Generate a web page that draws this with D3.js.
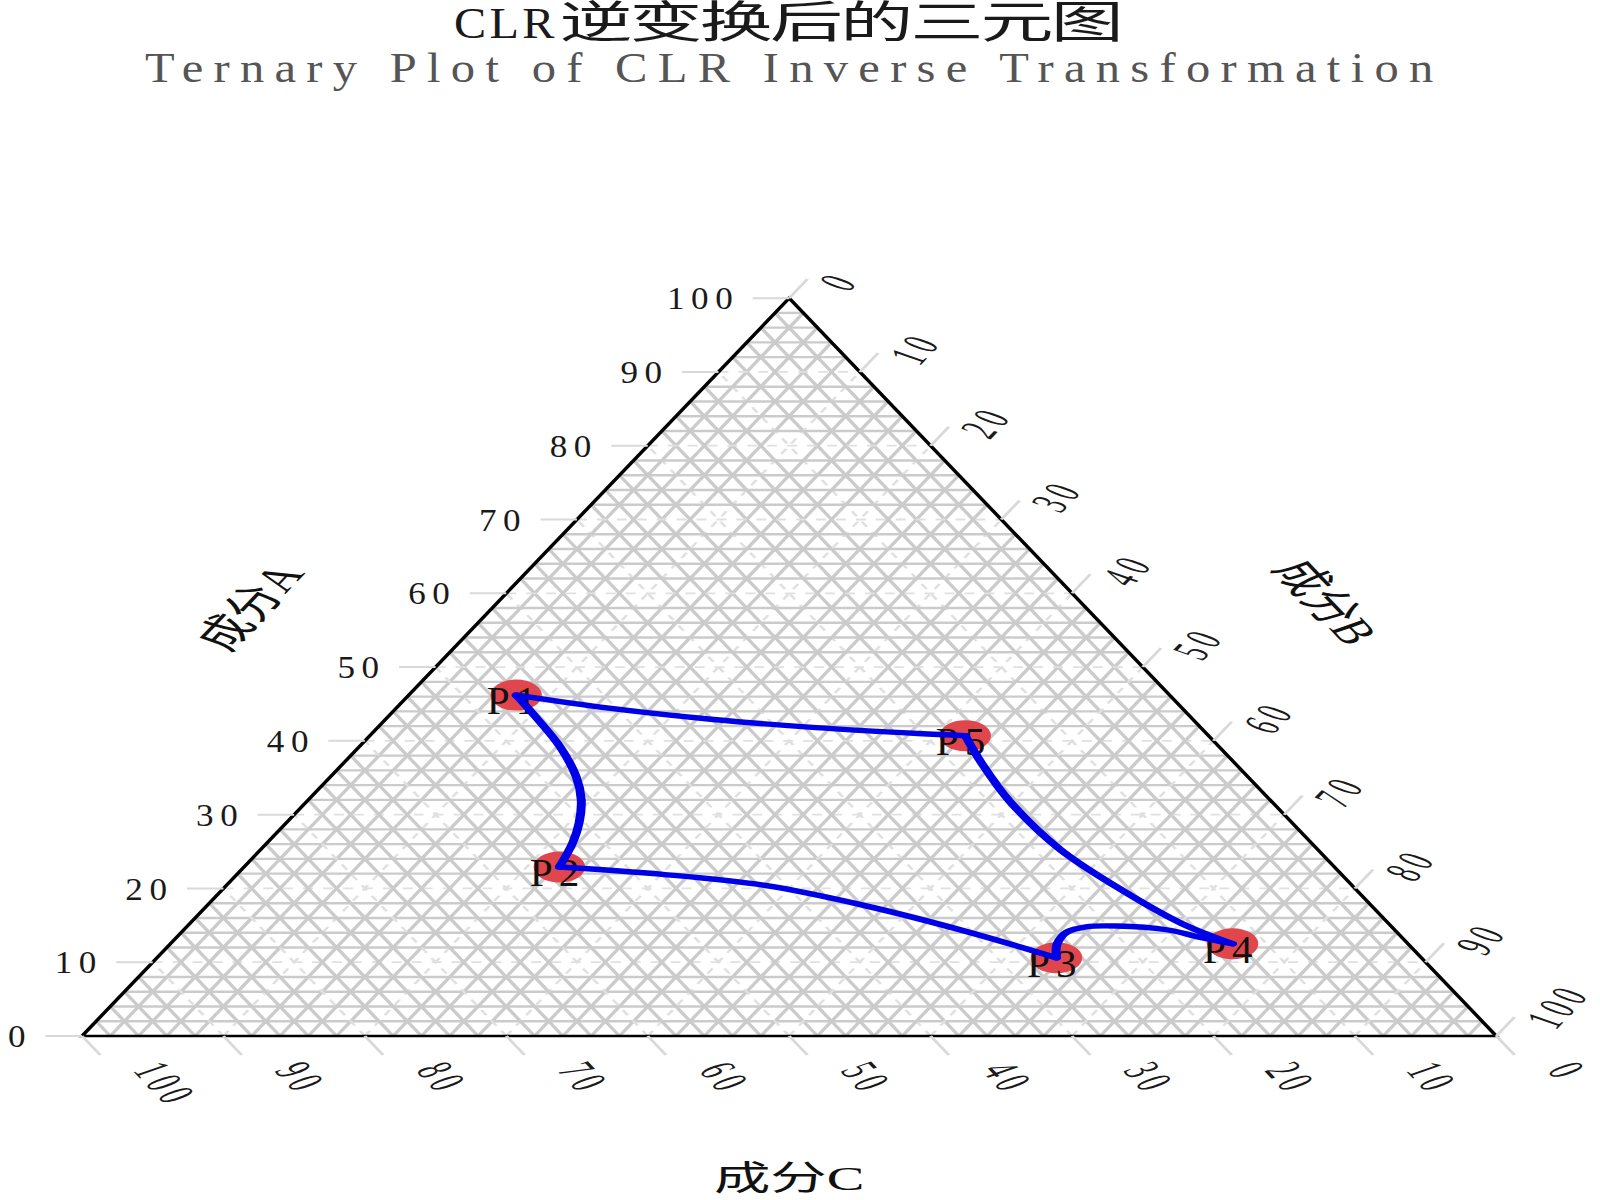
<!DOCTYPE html>
<html>
<head>
<meta charset="utf-8">
<script src="https://cdn.jsdelivr.net/npm/d3@7"></script>
<style>
	body { margin: 0; background: #fff; }
	svg { display: block; }
</style>
</head>
<body>
<script>
// points (percent of A, B, C)
const pointNames = ["P1", "P2", "P3", "P4", "P5"];
const pointA = [46.2, 22.9, 10.6, 12.5, 40.7];
const pointB = [7.6, 22.3, 63.6, 75.1, 42.1];
const pointC = [46.2, 54.8, 25.8, 12.4, 17.2];

// blue trace, P1 -> P2 -> P3 -> P4 -> P5 -> P1
const traceKnot = ["P1", "", "", "", "", "", "", "P2", "", "", "", "", "P3", "", "", "", "", "", "", "P4",
	"", "", "", "", "", "P5", "", "", "", "", "P1"];
const traceA = [46.2, 43.2, 39.2, 35.1, 32.0, 28.9, 26.2, 22.9, 21.9, 20.4, 17.6, 14.1, 10.6,
	12.5, 14.1, 14.8, 14.9, 14.4, 13.4, 12.5, 15.2, 19.8, 25.3, 31.8, 37.0, 40.7,
	41.0, 41.8, 42.9, 44.4, 46.2];
const traceB = [7.6, 10.5, 14.2, 17.4, 19.3, 20.7, 21.6, 22.3, 30.1, 38.1, 46.7, 55.6, 63.6,
	62.7, 62.6, 63.6, 65.7, 69.5, 72.3, 75.1, 70.2, 63.6, 56.5, 49.7, 45.1, 42.1,
	38.6, 31.0, 23.2, 15.2, 7.6];
const traceC = [46.2, 46.3, 46.6, 47.5, 48.7, 50.4, 52.2, 54.8, 48.0, 41.5, 35.7, 30.3, 25.8,
	24.8, 23.3, 21.6, 19.4, 16.1, 14.3, 12.4, 14.6, 16.6, 18.2, 18.5, 17.9, 17.2,
	20.4, 27.2, 33.9, 40.4, 46.2];

const tickVals = [0, 10, 20, 30, 40, 50, 60, 70, 80, 90, 100];
const gridVals = d3.range(2, 100, 2);

const axisTitles = ["成分A", "成分B", "成分C"];
const titleLatin = "CLR";
const titleCjk = "逆变换后的三元图";
const subtitle = "Ternary Plot of CLR Inverse Transformation";

// =========================================================================

// the picture is stretched sideways, so draw in a narrower frame and scale it
const sx = 1.66;
const side = 852, h = side * Math.sqrt(3) / 2, x0 = 49.4, y0 = 1036;
const serif = "'Liberation Serif', 'Noto Sans CJK SC', serif";
const narrow = 0.66; // latin glyphs are thin half-width ones in the original

const yA = d3.scaleLinear().domain([0, 100]).range([y0, y0 - h]);
const xS = d3.scaleLinear().domain([0, 100]).range([0, side]);

function proj(a, b, c) {
	const t = (a + b + c) / 100;
	a = a / t; b = b / t;
	return [x0 + xS(b) + xS(a) / 2, yA(a)];
}

// thin text with wide letter pitch
function ntext(parent, x, y, rot, str, anchor, size, spacing) {
	return parent.append("text")
		.attr("transform", `translate(${x},${y}) rotate(${rot}) scale(${narrow},1)`)
		.attr("text-anchor", anchor)
		.attr("dy", "0.35em")
		.attr("font-size", size)
		.attr("letter-spacing", spacing)
		.text(str);
}

const svg = d3.select("body").append("svg")
	.attr("width", 1600)
	.attr("height", 1200);
svg.append("rect").attr("width", 1600).attr("height", 1200).attr("fill", "#fff");

const g = svg.append("g").attr("transform", `scale(${sx},1)`);

// triangle background
const corners = [proj(100, 0, 0), proj(0, 100, 0), proj(0, 0, 100)];
g.append("polygon")
	.attr("points", corners.map(p => p.join(",")).join(" "))
	.attr("fill", "#fff");

// grid: every 2 solid, every 10 dashed and lighter
function gridLines(v) {
	return [
		[proj(v, 0, 100 - v), proj(v, 100 - v, 0)],
		[proj(0, v, 100 - v), proj(100 - v, v, 0)],
		[proj(0, 100 - v, v), proj(100 - v, 0, v)]
	];
}
const grid = g.append("g");
gridVals.forEach(v => {
	const major = v % 10 == 0;
	gridLines(v).forEach(l => {
		grid.append("line")
			.attr("x1", l[0][0]).attr("y1", l[0][1])
			.attr("x2", l[1][0]).attr("y2", l[1][1])
			.attr("stroke", major ? "#e0e0e0" : "#cbcbcb")
			.attr("stroke-width", major ? 1.8 : 2.4)
			.attr("stroke-dasharray", major ? "6,6" : null);
	});
});

g.append("polygon")
	.attr("points", corners.map(p => p.join(",")).join(" "))
	.attr("fill", "none")
	.attr("stroke", "#000")
	.attr("stroke-width", 2.5);

// ticks and tick labels
const tl = 22;
const ticks = g.append("g").attr("stroke", "#d9d9d9").attr("stroke-width", 2);
const labels = g.append("g")
	.attr("font-family", serif)
	.attr("fill", "#1a1a1a");

tickVals.forEach(v => {
	// A, left side
	let p = proj(v, 0, 100 - v);
	ticks.append("line").attr("x1", p[0]).attr("y1", p[1]).attr("x2", p[0] - tl).attr("y2", p[1]);
	ntext(labels, p[0] - 34 + 6 * narrow, p[1], 0, v, "end", 32, 6);

	// B, right side
	p = proj(100 - v, v, 0);
	ticks.append("line").attr("x1", p[0]).attr("y1", p[1])
		.attr("x2", p[0] + tl * 0.5).attr("y2", p[1] - tl * 0.866);
	ntext(labels, p[0] + 26, p[1] - 11, -60, v, "start", 32, 6);

	// C, bottom
	p = proj(0, 100 - v, v);
	ticks.append("line").attr("x1", p[0]).attr("y1", p[1])
		.attr("x2", p[0] + tl * 0.5).attr("y2", p[1] + tl * 0.866);
	ntext(labels, p[0] + 40, p[1] + 29, 60, v, "start", 32, v == 0 ? 0 : 6);
});

// axis titles
const ttl = g.append("g")
	.attr("font-family", serif)
	.attr("font-size", 34)
	.attr("fill", "#111")
	.attr("text-anchor", "middle");
ttl.append("text").attr("transform", "translate(150.6,607) rotate(-60)").attr("dy", "0.35em").text(axisTitles[0]);
ttl.append("text").attr("transform", "translate(799,602) rotate(60)").attr("dy", "0.35em").text(axisTitles[1]);
ttl.append("text").attr("x", (x0 + side / 2)).attr("y", 1190).text(axisTitles[2]);

// points
const pts = pointNames.map((n, i) => ({ name: n, p: proj(pointA[i], pointB[i], pointC[i]) }));
g.append("g").selectAll("circle")
	.data(pts)
	.enter().append("circle")
	.attr("cx", d => d.p[0])
	.attr("cy", d => d.p[1])
	.attr("r", 15.5)
	.attr("fill", "#e0464b");

const plab = g.append("g").attr("font-family", serif).attr("fill", "#111");
pts.forEach(d => {
	plab.append("text")
		.attr("transform", `translate(${d.p[0] - 1},${d.p[1] + 19}) scale(0.62,1)`)
		.attr("text-anchor", "middle")
		.attr("font-size", 40)
		.attr("letter-spacing", 6)
		.text(d.name);
});

// blue trace, one smooth piece between each pair of points
const segs = [];
let cur = [];
traceA.forEach((a, i) => {
	cur.push(proj(a, traceB[i], traceC[i]));
	if (traceKnot[i] != "" && i > 0) {
		segs.push(cur);
		cur = [proj(a, traceB[i], traceC[i])];
	}
});
const line = d3.line().curve(d3.curveCatmullRom.alpha(0.5));
g.append("g").selectAll("path")
	.data(segs)
	.enter().append("path")
	.attr("d", line)
	.attr("fill", "none")
	.attr("stroke", "#0000e6")
	.attr("stroke-width", 5.4)
	.attr("stroke-linecap", "round")
	.attr("stroke-linejoin", "round");

// titles
const cx = x0 + side / 2;
g.append("text")
	.attr("transform", "translate(273.5,38) scale(0.66,1)")
	.attr("font-family", serif)
	.attr("font-size", 44)
	.attr("letter-spacing", 3)
	.attr("fill", "#1a1a1a")
	.text(titleLatin);
g.append("text")
	.attr("x", 337).attr("y", 38)
	.attr("font-family", serif)
	.attr("font-size", 44)
	.attr("textLength", 340)
	.attr("fill", "#1a1a1a")
	.text(titleCjk);
g.append("text")
	.attr("transform", `translate(${cx},82) scale(0.68,1)`)
	.attr("text-anchor", "middle")
	.attr("font-family", serif)
	.attr("font-size", 43)
	.attr("textLength", 776 / 0.68)
	.attr("fill", "#555")
	.text(subtitle);
</script>
</body>
</html>
